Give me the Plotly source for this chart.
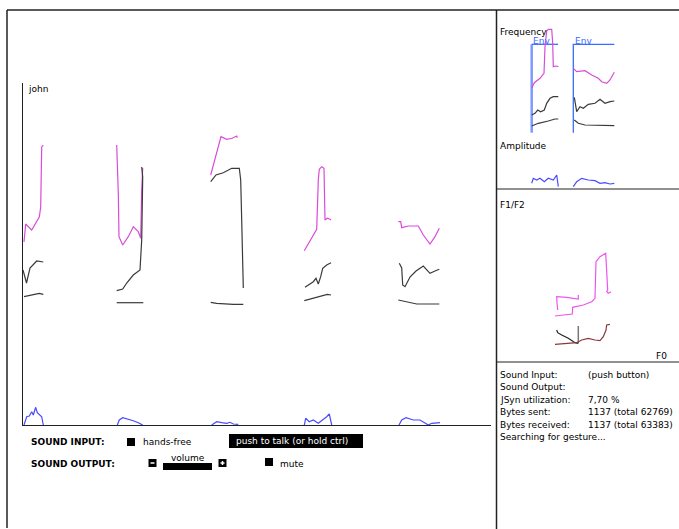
import plotly.graph_objects as go

W, H = 679, 529

# ---------------- main "john" chart (time vs. value) ----------------
F2_T = [1, 2.7, 8.7, 16.3, 17.7, 18.7, 20.3, None,
        93.7, 95.3, 96, 99.7, 105.3, 110.3, 115.3, 117.7, 118.7, 119.7, None,
        187.7, 192, 198, 203.7, 209.3, 213.7, 214.3, None,
        281.3, 293.7, 295.3, 296.3, 298.7, 301, 302, 304.3, 307, 308, None,
        375.3, 377.7, 378.7, 385.3, 395.3, 400.3, 407, 412, 416.3]
F2_V = [183, 201, 195, 208, 218, 278, 280, None,
        280, 232, 188.3, 180, 188.3, 198.3, 193.3, 186.7, 235, 257, None,
        250, 265, 288.3, 285.7, 286.7, 289, 287.3, None,
        174.3, 195.7, 245, 255.7, 258.3, 256.7, 205, 206.7, 205.7, 205, None,
        203.3, 203.3, 197.3, 199, 199, 190, 181, 188.3, 196.7]

F1_T = [0, 3.5, 7, 13.7, 20.3, None,
        93.7, 99.7, 103.7, 110.3, 117, 118.7, 119.7, 118.7, None,
        187.7, 193, 200.3, 208.7, 216.3, 217.7, 218.7, 219.7, 220.3, None,
        282, 287, 290.3, 293, 295.3, 297.7, 299.7, 303.7, 308, None,
        376.3, 378.7, 379.7, 382, 387, 393, 400.3, 407, 412, 416.3]
F1_V = [155, 142, 157, 164, 163, None,
        134.3, 136, 142, 150, 155, 185, 248, 258, None,
        243.3, 250, 252.3, 256.7, 256.7, 245, 205, 172, 137, None,
        137.7, 141, 143.3, 146.7, 141, 148.3, 156.7, 160, 162.3, None,
        161.7, 157, 140, 138.3, 148, 154, 159, 151.7, 154, 155.7]

F0_T = [1, 10.3, 16.3, 20.3, None,
        93.7, 120.3, None,
        187.7, 193.7, 210.3, 220.3, None,
        281.3, 293.7, 304.3, 308, None,
        375.3, 383.7, 393.7, 416.3]
F0_V = [128.3, 130.7, 131.7, 130.7, None,
        122.3, 122.3, None,
        122.7, 121.7, 120.7, 120.7, None,
        124.3, 127.7, 130.7, 130, None,
        125, 123.3, 121, 121]

AMP_T = [1, 3.7, 6.3, 8.7, 10.3, 12.7, 14.3, 16.3, 18.7, 20.3, None,
         94.3, 96.3, 99.7, 105.3, 110.3, 115.3, 119.7, None,
         188.7, 193.7, 198.7, 203.7, 207, 210.3, 215.3, None,
         281.3, 282.7, 286.3, 290.3, 295.3, 299.7, 303.7, 306.3, 308.7, None,
         376, 378.7, 383, 390.3, 397, 402, 405.3, 408.7, 413.7, 417]
AMP_V = [0, 8.3, 9, 13.3, 10, 17.7, 12.3, 10.7, 8.3, 0, None,
         0, 5, 7.3, 6, 4.3, 2.3, 0, None,
         0, 3.3, 2.3, 1.7, 2.7, 1, 0.7, None,
         0, 6.7, 3.3, 5, 1.7, 5, 8.3, 11, 0, None,
         0, 5, 7.3, 5, 5, 1.7, 0, 1.7, 1.7, 2.3]

# ---------------- "Frequency" / "Amplitude" panel ----------------
ENV1_T = [35.7, 35.7]
ENV1_V = [55.3, 143.7]
ENV_T = [35.7, 62, None, 77.3, 77.3, 118.3]
ENV_V = [143.7, 143.7, None, 55.3, 143.7, 143.7]

PF2_T = [35.7, 38.3, 44, 48, 49, 50.7, 52.3, 55.7, 56.7, 57.3, 59.7, 62.3, None,
         77.3, 80.7, 89, 95.7, 102.3, 105.7, 110.7, 114, 118.3]
PF2_V = [99.7, 105.3, 109.7, 114.7, 141.3, 157.3, 158.7, 158.7, 144.7, 121.3, 122, 121.3, None,
         119.7, 116.3, 117.3, 113, 109.7, 106.3, 104.7, 108, 115.7]
PF1_T = [35.7, 39, 41.7, 44.7, 48.3, 50.7, 54, 57.3, 62.3, None,
         78.3, 80.7, 84, 87.3, 92.3, 99, 104, 109, 114, 118.3]
PF1_V = [73, 74.7, 78, 76.3, 78, 84.7, 89.7, 91.3, 91.3, None,
         90.7, 76.3, 81.3, 79.7, 83.7, 84.7, 88.7, 84.7, 86.3, 87]
PF0_T = [35.7, 42.3, 52.3, 59, 62.3, None, 78.3, 82.3, 89, 118.3]
PF0_V = [62, 64.7, 67, 69, 69, None, 68, 64.7, 63, 62.3]
PAMP_T = [35.7, 37.3, 40.7, 44, 48.3, 52.3, 57.3, 60.7, 62.3, None,
          77.3, 80.7, 85.7, 92.3, 99, 104, 109, 114, 118.3]
PAMP_V = [4.7, 9.7, 8, 9.7, 6.3, 9.7, 8, 13, 1.3, None,
          1.3, 6.3, 9.7, 8, 7.3, 4.7, 5.3, 4, 4.7]

# ---------------- "F1/F2" vs "F0" panel ----------------
FF_X = [82.3, 82.3, 70.7, 60.7, 61, 61.7, None,
        59, 76.3, 76.7, 87.3, 95.7, 99, 100, 104, 109.7, 110.7, 111.7, 110.7, 112.3, 115]
FF_Y = [67, 63, 64.7, 65.3, 59, 52, None,
        46, 48, 54.7, 57, 60.3, 63.7, 100.3, 105.3, 108.7, 95.3, 72, 70.3, 68.7, 70.3]
F1F0_X = [60.7, 61.7, 65.7, 72.3, 79, 82.3]
F1F0_Y = [32, 29.3, 27, 23.7, 19.3, 18.7]
CUR_X = [82.3, 82.3]
CUR_Y = [36, 18.7]
F0F0_X = [59, 69, 80.7, 85.7, 92.3, 99, 104, 107.3, 110, 110.7, 114]
F0F0_Y = [17.7, 18.7, 19.3, 22, 23.7, 22, 21.3, 25.3, 32, 37, 37.7]

STATUS_LABELS = ["Sound Input:", "Sound Output:", "JSyn utilization:", "Bytes sent:",
                 "Bytes received:", "Searching for gesture..."]
STATUS_VALUES = ["(push button)", "", "7,70 %", "1137 (total 62769)",
                 "1137 (total 63383)", ""]

MAGENTA = "#d94cd9"
DARK = "#3a3a3a"
BLUE = "#4a4aff"
FONT = "DejaVu Sans"


def px(x):
    return x / W


def py(y):
    return 1 - y / H


fig = go.Figure()

def line(x, y, color, width=1.2, xa="x", ya="y"):
    fig.add_trace(go.Scatter(x=x, y=y, mode="lines", xaxis=xa, yaxis=ya,
                             line=dict(color=color, width=width),
                             connectgaps=False, hoverinfo="skip", showlegend=False))

line(F2_T, F2_V, MAGENTA)
line(F1_T, F1_V, DARK)
line(F0_T, F0_V, DARK)
line(AMP_T, AMP_V, BLUE)

line(ENV1_T, ENV1_V, "#7d9bff", 2.5, "x2", "y2")
line(ENV_T, ENV_V, "#3b6cff", 1.3, "x2", "y2")
line(PF2_T, PF2_V, MAGENTA, 1.2, "x2", "y2")
line(PF1_T, PF1_V, DARK, 1.2, "x2", "y2")
line(PF0_T, PF0_V, DARK, 1.2, "x2", "y2")
line(PAMP_T, PAMP_V, BLUE, 1.2, "x2", "y2")

line(FF_X, FF_Y, "#ee55ee", 1.2, "x3", "y3")
line(F1F0_X, F1F0_Y, "#222222", 1.2, "x3", "y3")
line(CUR_X, CUR_Y, "#777777", 1.5, "x3", "y3")
line(F0F0_X, F0F0_Y, "#8b3a3a", 1.2, "x3", "y3")

hidden = dict(showgrid=False, zeroline=False, showticklabels=False, ticks="", fixedrange=True)

fig.update_layout(
    width=W, height=H, margin=dict(l=0, r=0, t=0, b=0),
    paper_bgcolor="white", plot_bgcolor="rgba(0,0,0,0)",
    showlegend=False,
    font=dict(family=FONT, size=9, color="black"),
    xaxis=dict(domain=[px(23), px(491)], range=[0, 468], showline=True,
               linecolor="#222222", linewidth=1, anchor="y", **hidden),
    yaxis=dict(domain=[py(425), py(83)], range=[0, 342], showline=True,
               linecolor="#222222", linewidth=1, anchor="x", **hidden),
    xaxis2=dict(domain=[px(496), 1], range=[0, 183], anchor="y2", **hidden),
    yaxis2=dict(domain=[py(188), py(10)], range=[0, 178], anchor="x2", **hidden),
    xaxis3=dict(domain=[px(496), 1], range=[0, 183], anchor="y3", **hidden),
    yaxis3=dict(domain=[py(362), py(190)], range=[0, 172], anchor="x3", **hidden),
)

shapes = []
def hline(x0, x1, y, w=1.5, c="#222222"):
    shapes.append(dict(type="line", xref="paper", yref="paper", x0=px(x0), x1=px(x1),
                       y0=py(y), y1=py(y), line=dict(color=c, width=w)))

def vline(x, y0, y1, w=1.5, c="#222222"):
    shapes.append(dict(type="line", xref="paper", yref="paper", x0=px(x), x1=px(x),
                       y0=py(y0), y1=py(y1), line=dict(color=c, width=w)))

def rect(x0, y0, x1, y1, c="black"):
    shapes.append(dict(type="rect", xref="paper", yref="paper", x0=px(x0), x1=px(x1),
                       y0=py(y1), y1=py(y0), line=dict(width=0), fillcolor=c))

hline(7, 679, 10)
vline(7, 10, 528)
vline(496.5, 10, 529)
hline(496.5, 679, 189, 1)
hline(496.5, 679, 362, 1)

# controls
rect(127, 438, 135, 446)
rect(229, 434, 363, 448)
rect(148.5, 459, 156.5, 467)
rect(163, 463, 212, 470)
rect(218.5, 459, 226.5, 467)
rect(265, 458, 273, 466)
shapes.append(dict(type="line", xref="paper", yref="paper", x0=px(150.5), x1=px(154.5),
                   y0=py(463), y1=py(463), line=dict(color="white", width=1.5)))
shapes.append(dict(type="line", xref="paper", yref="paper", x0=px(220.5), x1=px(224.5),
                   y0=py(463), y1=py(463), line=dict(color="white", width=1.5)))
shapes.append(dict(type="line", xref="paper", yref="paper", x0=px(222.5), x1=px(222.5),
                   y0=py(461), y1=py(465), line=dict(color="white", width=1.5)))
fig.update_layout(shapes=shapes)

anns = []
def text(x, y, s, color="black", size=9, bold=False):
    anns.append(dict(xref="paper", yref="paper", x=px(x), y=py(y), text=("<b>%s</b>" % s if bold else s),
                     showarrow=False, xanchor="left", yanchor="middle",
                     font=dict(family=FONT, size=size, color=color)))

text(26, 89, "john")
text(498, 32, "Frequency")
text(531, 41, "Env", "#3b6cff")
text(573, 41, "Env", "#3b6cff")
text(498, 146, "Amplitude")
text(498, 205, "F1/F2")
text(654, 356, "F0")
for i, (lab, val) in enumerate(zip(STATUS_LABELS, STATUS_VALUES)):
    yy = 375 + i * 12.4
    text(498, yy, lab)
    if val:
        text(586, yy, val)

text(29, 442, "SOUND INPUT:", bold=True)
text(141, 442, "hands-free")
text(234, 441, "push to talk (or hold ctrl)", "white")
text(29, 464, "SOUND OUTPUT:", bold=True)
text(169, 458, "volume")
text(278, 464, "mute")
fig.update_layout(annotations=anns)

fig.write_html("out.html", config={"displayModeBar": False},
               post_script="document.body.style.margin='0px';document.body.style.overflow='hidden';")
